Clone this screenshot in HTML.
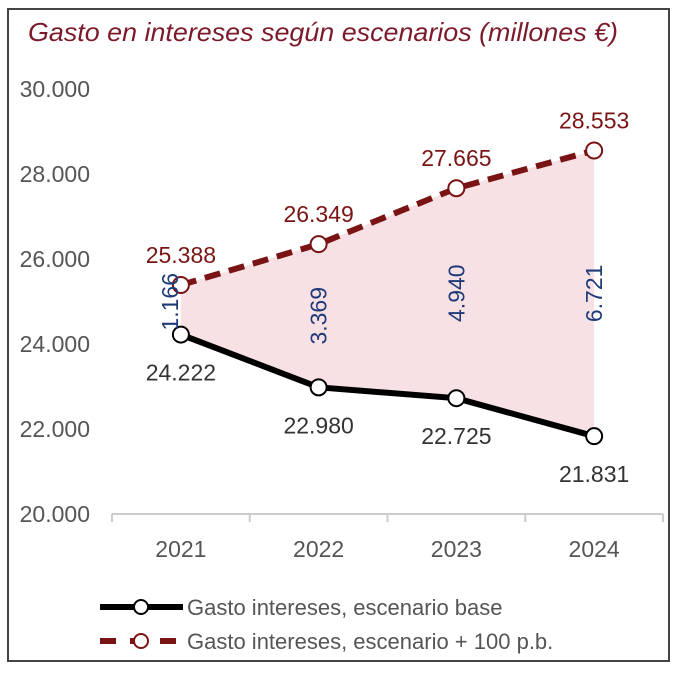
<!DOCTYPE html>
<html><head><meta charset="utf-8"><style>
body{margin:0;background:#fff;width:682px;height:676px;overflow:hidden;font-family:"Liberation Sans",sans-serif}
#frame{position:absolute;left:7px;top:8px;width:663px;height:654px;border:2px solid #444;box-sizing:border-box}
</style></head><body>
<div id="frame"></div>
<svg id="chart" width="682" height="676" style="position:absolute;left:0;top:0">
<text x="28" y="41" font-size="26" font-style="italic" fill="#7b1a2a" textLength="590" lengthAdjust="spacingAndGlyphs">Gasto en intereses según escenarios (millones €)</text>
</svg>
<script>
const years=['2021','2022','2023','2024'];
const baseVals=[24222,22980,22725,21831];
const highVals=[25388,26349,27665,28553];
const baseLabels=['24.222','22.980','22.725','21.831'];
const highLabels=['25.388','26.349','27.665','28.553'];
const diffLabels=['1.166','3.369','4.940','6.721'];
const yTicks=[20000,22000,24000,26000,28000,30000];
const yTickLabels=['20.000','22.000','24.000','26.000','28.000','30.000'];
const svg=document.getElementById('chart');const NS='http://www.w3.org/2000/svg';
const x0=112,x1=663,yBot=514,yTop=89;
const xs=i=>x0+(x1-x0)/years.length*(i+0.5);
const ys=v=>yBot-(v-20000)/10000*(yBot-yTop);
function mk(t,a,txt){const e=document.createElementNS(NS,t);for(const k in a)e.setAttribute(k,a[k]);if(txt!=null)e.textContent=txt;svg.appendChild(e);return e;}
let pts=highVals.map((v,i)=>xs(i)+','+ys(v)).concat(baseVals.map((v,i)=>xs(i)+','+ys(v)).reverse());
let ar=mk('polygon',{points:pts.join(' '),fill:'#f8e1e4'});


yTicks.forEach((t,i)=>{const e=mk('text',{x:90,y:ys(t)+8,'font-size':23,fill:'#555','text-anchor':'end'},yTickLabels[i]);

});
let ax=mk('line',{x1:x0,x2:x1,y1:yBot,y2:yBot,stroke:'#ccc','stroke-width':2});


for(let i=0;i<=years.length;i++){const xx=x0+(x1-x0)/years.length*i;mk('line',{x1:xx,x2:xx,y1:yBot,y2:yBot+8,stroke:'#ccc','stroke-width':2});}
years.forEach((y,i)=>{const e=mk('text',{x:xs(i),y:557,'font-size':23,fill:'#555','text-anchor':'middle'},y);

});
let lb=mk('polyline',{points:baseVals.map((v,i)=>xs(i)+','+ys(v)).join(' '),fill:'none',stroke:'#000','stroke-width':6});


let lh=mk('polyline',{points:highVals.map((v,i)=>xs(i)+','+ys(v)).join(' '),fill:'none',stroke:'#7a1414','stroke-width':6,'stroke-dasharray':'16 9'});


baseVals.forEach((v,i)=>{const c=mk('circle',{cx:xs(i),cy:ys(v),r:8,fill:'#fff',stroke:'#000','stroke-width':2});


const t=mk('text',{x:xs(i),y:ys(v)+46,'font-size':23,fill:'#333','text-anchor':'middle'},baseLabels[i]);

});
highVals.forEach((v,i)=>{const c=mk('circle',{cx:xs(i),cy:ys(v),r:8,fill:'#fff',stroke:'#7a1414','stroke-width':2});


const t=mk('text',{x:xs(i),y:ys(v)-22,'font-size':23,fill:'#7a1414','text-anchor':'middle'},highLabels[i]);

});
diffLabels.forEach((d,i)=>{const cx=xs(i)+(i==0?-3:8),cy=(ys(baseVals[i])+ys(highVals[i]))/2+(i==0?-8:0);
const t=mk('text',{x:cx,y:cy,'font-size':23,fill:'#1f3a78','text-anchor':'middle',transform:`rotate(-90 ${cx} ${cy})`},d);

});
let g1=mk('line',{x1:100,x2:183,y1:607,y2:607,stroke:'#000','stroke-width':6});


mk('circle',{cx:141,cy:607,r:7,fill:'#fff',stroke:'#000','stroke-width':2});
let lt1=mk('text',{x:187,y:615,'font-size':22,fill:'#555'},'Gasto intereses, escenario base');


let g2=mk('line',{x1:100,x2:183,y1:641,y2:641,stroke:'#7a1414','stroke-width':6,'stroke-dasharray':'16 14'});


mk('circle',{cx:141,cy:641,r:7,fill:'#fff',stroke:'#7a1414','stroke-width':2});
let lt2=mk('text',{x:187,y:649,'font-size':22,fill:'#555'},'Gasto intereses, escenario + 100 p.b.');


</script>
</body></html>
